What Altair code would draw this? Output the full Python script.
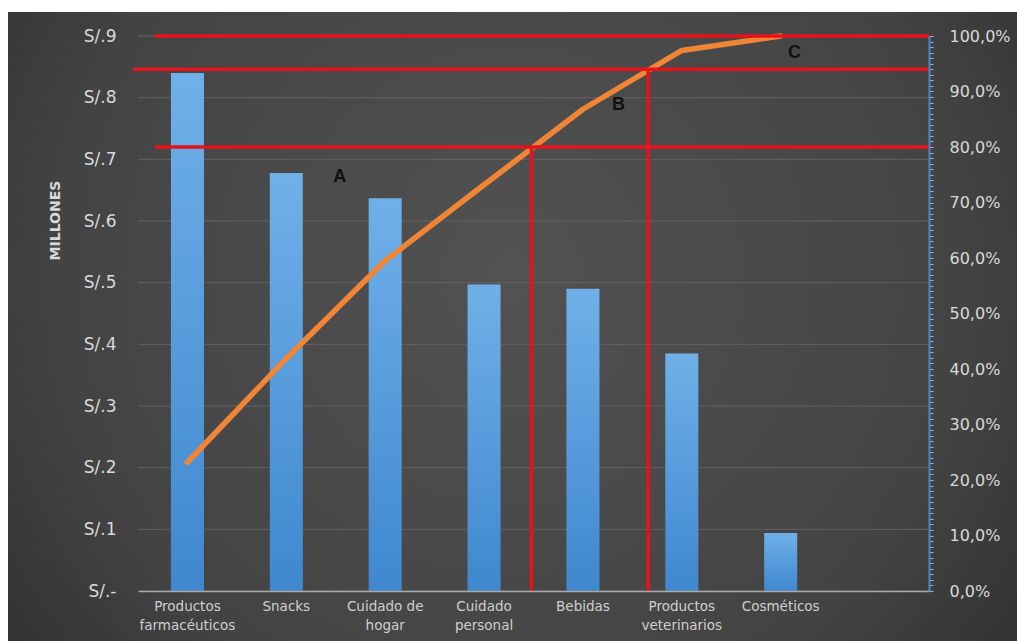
import altair as alt
import pandas as pd

# ---------------- data ----------------
categories = ["Productos farmacéuticos", "Snacks", "Cuidado de hogar", "Cuidado personal",
              "Bebidas", "Productos veterinarios", "Cosméticos"]
ventas = [0.840, 0.678, 0.637, 0.497, 0.490, 0.385, 0.094]          # millones S/.
acumulado = [0.232, 0.419, 0.595, 0.732, 0.868, 0.974, 1.000]        # % acumulado
slots = categories + [" "]                                           # empty 8th slot

left_ticks = [0.0, 0.1, 0.2, 0.3, 0.4, 0.5, 0.6, 0.7, 0.8, 0.9]
right_ticks = [i / 100 for i in range(101)]

# red reference lines (x in category-slot units, y in cumulative %)
h_rule_y = [1.00, 0.94, 0.80]
h_rule_x1 = [0.17, -0.05, 0.17]
h_rule_x2 = [8.0, 8.0, 8.0]
v_rule_x = [3.98, 5.16]
v_rule_top = [0.80, 0.94]
zone_labels = ["A", "B", "C"]
zone_x = [2.04, 4.86, 6.64]
zone_y = [0.746, 0.876, 0.969]

W, H = 791, 555
PAD = {"left": 138, "top": 36, "right": 88, "bottom": 50}

df = pd.DataFrame({"cat": categories, "ventas": ventas, "acum": acumulado})
df_h = pd.DataFrame({"y": h_rule_y, "x1": h_rule_x1, "x2": h_rule_x2})
df_v = pd.DataFrame({"x": v_rule_x, "y2": v_rule_top, "y": [0.0] * len(v_rule_x)})
df_t = pd.DataFrame({"t": zone_labels, "x": zone_x, "y": zone_y})
df_grid = pd.DataFrame({"g": left_ticks})

label_color = "#d9d9d9"
FONT = "DejaVu Sans"

bg_fill = {
    "gradient": "radial",
    "x1": 0.5, "y1": 0.45, "r1": 0,
    "x2": 0.5, "y2": 0.45, "r2": 0.75,
    "stops": [
        {"offset": 0, "color": "#525252"},
        {"offset": 0.6, "color": "#434343"},
        {"offset": 1, "color": "#262626"},
    ],
}
bar_fill = {
    "gradient": "linear",
    "x1": 0, "y1": 0, "x2": 0, "y2": 1,
    "stops": [
        {"offset": 0, "color": "#6fb0e8"},
        {"offset": 1, "color": "#3f88cf"},
    ],
}

xq = alt.Scale(domain=[0, 8], nice=False, zero=False)
yp = alt.Scale(domain=[0, 1], nice=False)
ym = alt.Scale(domain=[0, 0.9], nice=False)

bg = alt.Chart(pd.DataFrame({"k": [0]})).mark_rect(fill=bg_fill).encode(
    x=alt.value(-130), x2=alt.value(W + PAD["right"]),
    y=alt.value(-24), y2=alt.value(H + PAD["bottom"]),
)

grid = alt.Chart(df_grid).mark_rule(color="#626262", strokeWidth=1).encode(
    y=alt.Y("g:Q", scale=ym, axis=None),
    x=alt.value(0), x2=alt.value(W),
)

bars = alt.Chart(df).mark_bar(fill=bar_fill).encode(
    x=alt.X("cat:N", title=None,
            scale=alt.Scale(type="band", domain=slots, paddingInner=0.666, paddingOuter=0.333),
            axis=alt.Axis(
                labelAngle=0, ticks=False, domain=True, domainColor="#a8a8a8", domainWidth=1.5,
                labelColor="#cfcfcf", labelFont=FONT, labelFontSize=13.5, labelPadding=8,
                labelLineHeight=19, labelBaseline="top", zindex=1,
                labelExpr="indexof(datum.label, ' ') < 0 ? datum.label : "
                          "[substring(datum.label, 0, lastindexof(datum.label, ' ')), "
                          "substring(datum.label, lastindexof(datum.label, ' ') + 1)]",
            )),
    y=alt.Y("ventas:Q", scale=ym, title="MILLONES",
            axis=alt.Axis(
                values=left_ticks, grid=False, domain=False, ticks=False,
                labelColor=label_color, labelFont=FONT, labelFontSize=17, labelPadding=22,
                labelExpr="datum.value == 0 ? 'S/.-' : 'S/' + replace(format(datum.value, '.1f'), '0.', '.')",
                titleColor=label_color, titleFont=FONT, titleFontSize=14, titleFontWeight="bold",
                titleX=-83, titleY=184, titleAlign="center", titleBaseline="middle", titleAngle=270,
                zindex=1,
            )),
)

line = alt.Chart(df).mark_line(color="#ef8535", strokeWidth=5.5, strokeCap="round",
                               strokeJoin="round").encode(
    x=alt.X("cat:N", bandPosition=0.5,
            scale=alt.Scale(type="band", domain=slots, paddingInner=0.666, paddingOuter=0.333),
            axis=None),
    y=alt.Y("acum:Q", scale=yp, title=None,
            axis=alt.Axis(
                orient="right", values=right_ticks, grid=False, labelOverlap=False,
                domain=True, domainColor="#4f86c6", domainWidth=2,
                ticks=True, tickColor="#8fb6e0", tickSize=4, tickWidth=1,
                labelColor=label_color, labelFont=FONT, labelFontSize=16, labelPadding=16,
                labelExpr="round(datum.value * 100) % 10 == 0 ? "
                          "replace(format(datum.value, '.1%'), '.', ',') : ''",
                zindex=1,
            )),
)

hr = alt.Chart(df_h).mark_rule(color="#e8121a", strokeWidth=3.5).encode(
    x=alt.X("x1:Q", scale=xq, axis=None), x2="x2:Q",
    y=alt.Y("y:Q", scale=yp, axis=None),
)

vr = alt.Chart(df_v).mark_rule(color="#e8121a", strokeWidth=3.5).encode(
    x=alt.X("x:Q", scale=xq, axis=None),
    y=alt.Y("y:Q", scale=yp, axis=None), y2="y2:Q",
)

txt = alt.Chart(df_t).mark_text(font="Liberation Sans", fontWeight="bold", fontSize=18,
                                color="#111111").encode(
    x=alt.X("x:Q", scale=xq, axis=None),
    y=alt.Y("y:Q", scale=yp, axis=None),
    text="t:N",
)

chart = alt.layer(bg, grid, bars, line, hr, vr, txt).resolve_scale(
    x="independent", y="independent"
).properties(
    width=W, height=H, padding=PAD, background="white",
    autosize=alt.AutoSizeParams(type="none"),
).configure_view(stroke=None)

chart.save("out.html", embed_options={"renderer": "svg", "actions": False})
